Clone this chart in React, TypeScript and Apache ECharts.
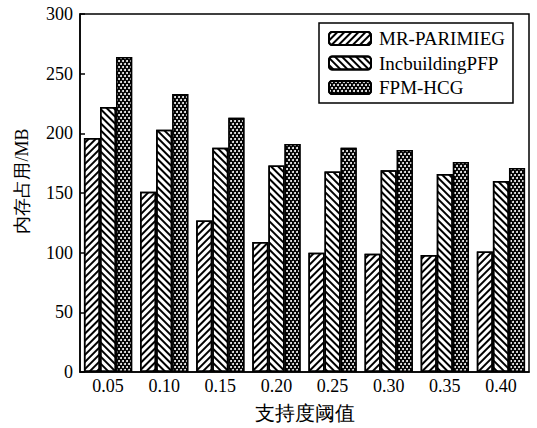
import React, { useEffect, useRef } from "react";
import * as echarts from "echarts";

const categories = ["0.05", "0.10", "0.15", "0.20", "0.25", "0.30", "0.35", "0.40"];
const seriesNames = ["MR-PARIMIEG", "IncbuildingPFP", "FPM-HCG"];
const mrParimieg = [196, 151, 127, 109, 100, 99, 98, 101];
const incbuilding = [222, 203, 188, 173, 168, 169, 166, 160];
const fpmHcg = [264, 233, 213, 191, 188, 186, 176, 171];

const FONT = "Liberation Serif";

export default function App() {
  const ref = useRef<HTMLDivElement>(null);
  useEffect(() => {
    if (!ref.current) return;
    const chart = echarts.init(ref.current, null, { renderer: "svg" });
    const stripe = (rot: number) => ({
      symbol: "rect",
      symbolSize: 1,
      color: "#000",
      dashArrayX: [1, 0],
      dashArrayY: [2, 3],
      rotation: rot,
    });
    const cross = {
      symbol: "circle",
      symbolSize: 1,
      color: "#fff",
      dashArrayX: [[2, 2], [0, 2, 2, 0]],
      dashArrayY: [2, 0.5],
      rotation: 0,
    };
    const mk = (name: string, data: number[], color: string, decal: any) => ({
      name,
      type: "bar",
      data,
      barGap: "0%",
      barCategoryGap: "14%",
      itemStyle: { color, borderColor: "#000", borderWidth: 1.5, decal },
    });
    chart.setOption({
      animation: false,
      textStyle: { fontFamily: FONT },
      grid: {
        left: 80,
        right: 8,
        top: 14,
        bottom: 52,
        show: true,
        borderColor: "#000",
        borderWidth: 1.5,
        backgroundColor: "transparent",
      },
      legend: {
        orient: "vertical",
        left: 319,
        top: 23,
        padding: [6, 8, 6, 9],
        itemWidth: 42,
        itemHeight: 13,
        itemGap: 5.5,
        borderColor: "#000",
        borderWidth: 1.5,
        backgroundColor: "#fff",
        textStyle: { fontFamily: FONT, fontSize: 19, color: "#000", lineHeight: 19, padding: [0, 0, 0, 3] },
        data: seriesNames,
      },
      xAxis: {
        type: "category",
        data: categories,
        name: "支持度阈值",
        nameLocation: "middle",
        nameGap: 31,
        nameTextStyle: { fontFamily: FONT, fontSize: 20, color: "#000" },
        axisLine: { lineStyle: { color: "#000", width: 1.5 } },
        axisTick: { show: false },
        axisLabel: { fontFamily: FONT, fontSize: 18, color: "#000", margin: 5 },
      },
      yAxis: {
        type: "value",
        min: 0,
        max: 300,
        interval: 50,
        name: "内存占用/MB",
        nameLocation: "middle",
        nameGap: 49,
        nameTextStyle: { fontFamily: FONT, fontSize: 18, color: "#000", padding: [0, 0, 0, 24] },
        axisLine: { show: true, lineStyle: { color: "#000", width: 1.5 } },
        axisTick: { show: true, inside: true, length: 5, lineStyle: { color: "#000", width: 1.5 } },
        axisLabel: { fontFamily: FONT, fontSize: 18, color: "#000", margin: 7 },
        splitLine: { show: false },
      },
      series: [
        mk(seriesNames[0], mrParimieg, "#fff", stripe(-Math.PI / 4)),
        mk(seriesNames[1], incbuilding, "#fff", stripe(Math.PI / 4)),
        mk(seriesNames[2], fpmHcg, "#000", cross),
      ],
    });
    return () => chart.dispose();
  }, []);
  return <div ref={ref} style={{ width: 537, height: 428, position: "absolute", left: 0, top: 0 }} />;
}
